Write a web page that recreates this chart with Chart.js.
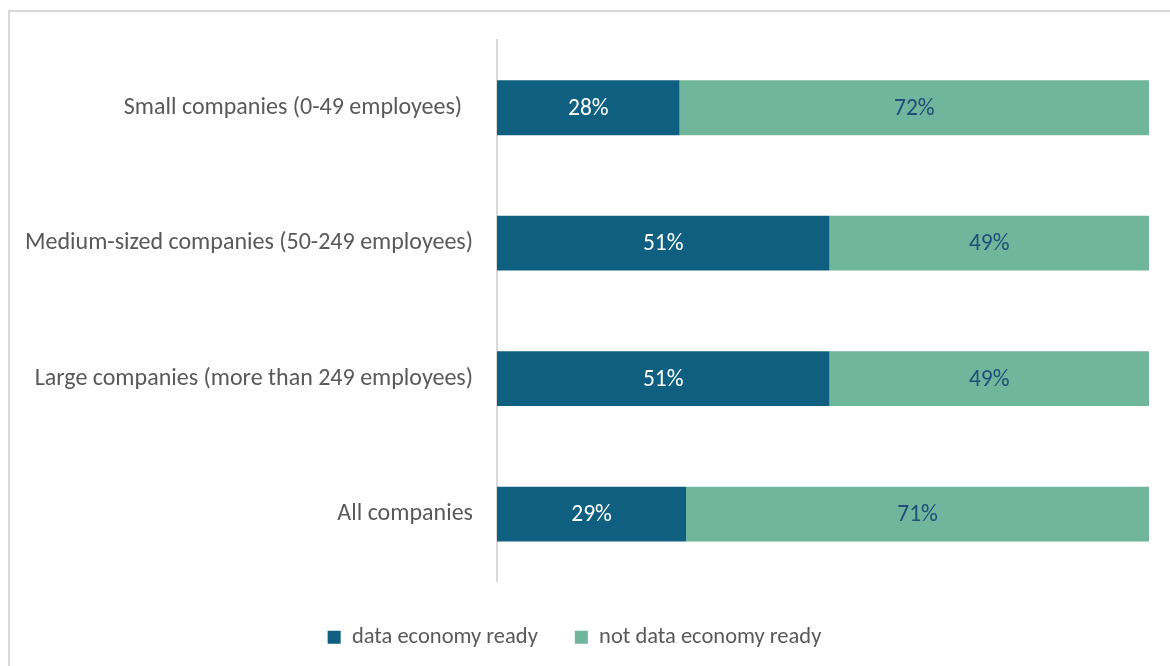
<!DOCTYPE html>
<html>
<head>
<meta charset="utf-8">
<script src="https://cdn.jsdelivr.net/npm/chart.js@4/dist/chart.umd.min.js"></script>
<style>
  html, body { margin: 0; padding: 0; background: #ffffff; }
  #wrap { position: relative; width: 1170px; height: 666px; overflow: hidden; }
  #frame { position: absolute; left: 8px; top: 10px; width: 1200px; height: 700px;
           border: 2px solid #d9d9d9; box-sizing: border-box; pointer-events: none; }
  canvas { position: absolute; left: 0; top: 0; }
</style>
</head>
<body>
<div id="wrap">
  <canvas id="c" width="1170" height="666"></canvas>
  <div id="frame"></div>
</div>
<script>
const categories = [
  'Small companies (0-49 employees)  ',
  'Medium-sized companies (50-249 employees)',
  'Large companies (more than 249 employees)',
  'All companies'
];
const readyValues = [28, 51, 51, 29];
const notReadyValues = [72, 49, 49, 71];
const seriesNames = ['data economy ready', 'not data economy ready'];

const FONT = "Carlito, Lato, 'Open Sans', sans-serif";

// Writes each segment's percentage in the middle of its bar
const segmentLabels = {
  id: 'segmentLabels',
  afterDatasetsDraw(chart) {
    const ctx = chart.ctx;
    ctx.save();
    ctx.font = '23.5px ' + FONT;
    ctx.textAlign = 'center';
    ctx.textBaseline = 'middle';
    chart.data.datasets.forEach((ds, di) => {
      const meta = chart.getDatasetMeta(di);
      meta.data.forEach((bar, i) => {
        const p = bar.getProps(['x', 'y', 'base'], true);
        const cx = (p.x + p.base) / 2;
        ctx.fillStyle = di === 0 ? '#ffffff' : '#1f4e79';
        ctx.fillText(ds.data[i] + '%', cx, p.y + 1);
      });
    });
    ctx.restore();
  }
};

new Chart(document.getElementById('c'), {
  type: 'bar',
  data: {
    labels: categories,
    datasets: [
      { label: seriesNames[0], data: readyValues, backgroundColor: '#0e5f80',
        barPercentage: 0.405, categoryPercentage: 1.0 },
      { label: seriesNames[1], data: notReadyValues, backgroundColor: '#70b69c',
        barPercentage: 0.405, categoryPercentage: 1.0 }
    ]
  },
  options: {
    indexAxis: 'y',
    responsive: false,
    animation: false,
    layout: { padding: { top: 40, right: 21, left: 0, bottom: 7.5 } },
    scales: {
      x: { stacked: true, min: 0, max: 100, display: false },
      y: {
        stacked: true,
        grid: { display: false, drawTicks: true, tickLength: 19 },
        border: { display: true, color: '#d9d9d9', width: 2 },
        ticks: { color: '#595959', font: { family: FONT, size: 24 }, padding: 5 },
        afterFit(scale) { scale.width = 497; }
      }
    },
    plugins: {
      tooltip: { enabled: false },
      legend: {
        position: 'bottom',
        title: { display: true, text: ' ', font: { size: 1 }, padding: { top: 6, bottom: 0 } },
        labels: {
          color: '#595959',
          font: { family: FONT, size: 22.5 },
          boxWidth: 13, boxHeight: 13,
          padding: 37,
          generateLabels(chart) {
            return chart.data.datasets.map((ds, i) => ({
              text: ds.label, fillStyle: ds.backgroundColor, strokeStyle: ds.backgroundColor,
              lineWidth: 0, fontColor: '#595959', datasetIndex: i, hidden: false
            }));
          }
        }
      }
    }
  },
  plugins: [segmentLabels]
});
</script>
</body>
</html>
